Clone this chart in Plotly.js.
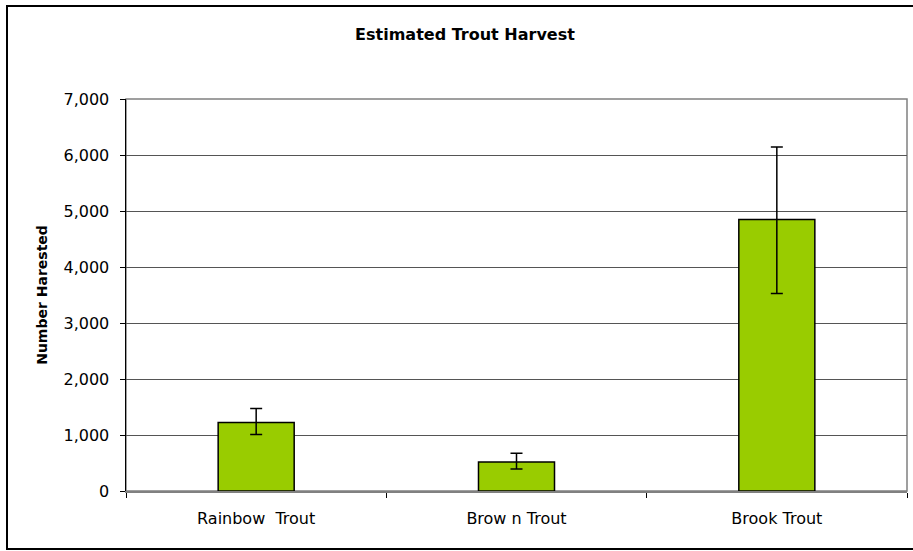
<!DOCTYPE html>
<html>
<head>
<meta charset="utf-8">
<script src="https://cdn.plot.ly/plotly-3.0.1.min.js"></script>
<style>
  html, body { margin: 0; padding: 0; background: #fff; }
  #wrap { position: relative; width: 913px; height: 551px; overflow: hidden; }
  #chart { position: absolute; left: 0; top: 0; width: 913px; height: 551px; }
  #frame { position: absolute; left: 6px; top: 5px; width: 930px; height: 545px;
           border: 2px solid #000; box-sizing: border-box; pointer-events: none; }
</style>
</head>
<body>
<div id="wrap">
  <div id="chart"></div>
  <div id="frame"></div>
</div>
<script>
// Data
const categories = ["Rainbow\u00a0 Trout", "Brow n Trout", "Brook Trout"];
const harvest = [1222, 518, 4850];
const errPlus = [250, 156, 1292];
const errMinus = [214, 125, 1323];
const yTickVals = [0, 1000, 2000, 3000, 4000, 5000, 6000, 7000];

const trace = {
  type: 'bar',
  x: categories,
  y: harvest,
  marker: { color: '#99CC00', line: { color: '#000000', width: 1.5 } },
  error_y: {
    type: 'data', symmetric: false,
    array: errPlus, arrayminus: errMinus,
    color: '#000000', thickness: 1.5, width: 6
  },
  hoverinfo: 'none'
};

const layout = {
  width: 913, height: 551,
  margin: { l: 126, r: 6, t: 99, b: 60, pad: 0 },
  paper_bgcolor: 'rgba(0,0,0,0)',
  plot_bgcolor: '#ffffff',
  showlegend: false,
  bargap: 0.708,
  font: { family: 'DejaVu Sans', size: 16, color: '#000' },
  title: {
    text: 'Estimated Trout Harvest',
    x: 465 / 913, xref: 'container', xanchor: 'center',
    y: 1 - 34 / 551, yref: 'container', yanchor: 'middle',
    font: { family: 'DejaVu Sans', size: 16, weight: 'bold', color: '#000' }
  },
  xaxis: {
    type: 'category',
    tickson: 'boundaries',
    ticks: 'outside', ticklen: 5, tickcolor: '#000', tickwidth: 1,
    showline: true, linecolor: '#808080', linewidth: 1.5,
    showgrid: false, zeroline: false,
    tickfont: { family: 'DejaVu Sans', size: 16, color: '#000' },
    ticklabelstandoff: 12,
    fixedrange: true
  },
  yaxis: {
    range: [0, 7000],
    tickmode: 'array', tickvals: yTickVals,
    tickformat: ',d',
    ticks: 'outside', ticklen: 5, tickcolor: '#000', tickwidth: 1,
    showline: true, linecolor: '#000', linewidth: 1.5,
    showgrid: true, gridcolor: '#555555', gridwidth: 1,
    zeroline: false,
    tickfont: { family: 'DejaVu Sans', size: 16, color: '#000' },
    ticklabelstandoff: 7,
    title: {
      text: 'Number Harested',
      font: { family: 'DejaVu Sans', size: 14, weight: 'bold', color: '#000' },
      standoff: 12
    },
    fixedrange: true
  },
  shapes: [{
    type: 'rect', xref: 'paper', yref: 'paper', x0: 0, x1: 1, y0: 0, y1: 1,
    line: { color: '#808080', width: 1.5 }, layer: 'below'
  }]
};

Plotly.newPlot('chart', [trace], layout, { displayModeBar: false, staticPlot: true });
</script>
</body>
</html>
